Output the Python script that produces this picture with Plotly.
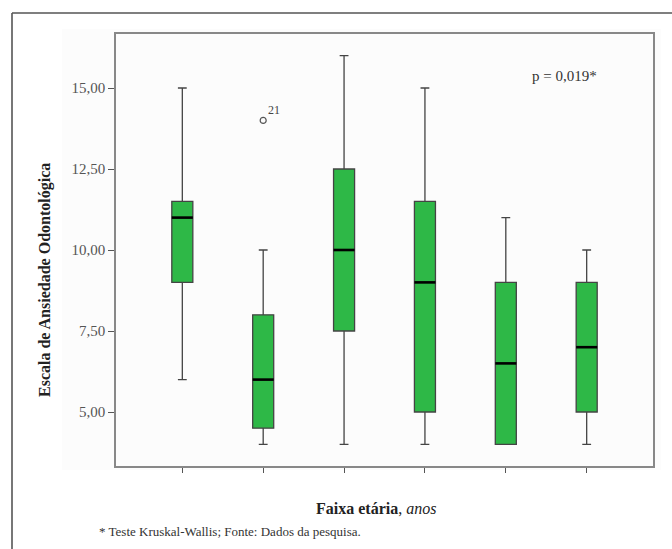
import plotly.graph_objects as go

groups = ["G1", "G2", "G3", "G4", "G5", "G6"]
q1 = [9.0, 4.5, 7.5, 5.0, 4.0, 5.0]
median = [11.0, 6.0, 10.0, 9.0, 6.5, 7.0]
q3 = [11.5, 8.0, 12.5, 11.5, 9.0, 9.0]
lower = [6.0, 4.0, 4.0, 4.0, 4.0, 4.0]
upper = [15.0, 10.0, 16.0, 15.0, 11.0, 10.0]
outlier_group = [1]
outlier_value = [14.0]
outlier_label = ["21"]
y_ticks = [5.0, 7.5, 10.0, 12.5, 15.0]
y_ticktext = ["5,00", "7,50", "10,00", "12,50", "15,00"]

pos = list(range(len(groups)))
BW = 0.26
FONT = "Liberation Serif, Times New Roman, DejaVu Serif, serif"
GREEN = "#2EB847"

# plot area in pixels
W, H = 672, 549
L, R, T, B = 116, 653, 34, 466


def px(x):
    return (x - L) / (R - L)


def py(y):
    return (B - y) / (B - T)


fig = go.Figure()
fig.add_trace(go.Box(
    x=pos, q1=q1, median=median, q3=q3, lowerfence=lower, upperfence=upper,
    width=BW, whiskerwidth=0.42, fillcolor=GREEN,
    line=dict(color="#444444", width=1.3), boxpoints=False, showlegend=False,
    hoverinfo="skip",
))

# thick median lines
mx, my = [], []
for p, m in zip(pos, median):
    mx += [p - BW / 2, p + BW / 2, None]
    my += [m, m, None]
fig.add_trace(go.Scatter(x=mx, y=my, mode="lines",
                         line=dict(color="black", width=2.6), showlegend=False,
                         hoverinfo="skip"))

fig.add_trace(go.Scatter(
    x=outlier_group, y=outlier_value, mode="markers", showlegend=False,
    marker=dict(symbol="circle-open", size=6, color="#555555", line=dict(width=1.2)),
))
for g, v, t in zip(outlier_group, outlier_value, outlier_label):
    fig.add_annotation(x=g, y=v, text=t, showarrow=False, xanchor="left",
                       yanchor="bottom", xshift=3, yshift=1,
                       font=dict(family=FONT, size=12, color="#444444"))

# faint panel background and outer frame
fig.add_shape(type="rect", xref="paper", yref="paper", layer="below",
              x0=px(62), x1=px(661), y0=py(470), y1=py(29),
              fillcolor="#fcfcfc", line=dict(width=0))
fig.add_shape(type="line", xref="paper", yref="paper",
              x0=px(12), x1=px(W + 5), y0=py(13), y1=py(13),
              line=dict(color="#555555", width=1.6))
fig.add_shape(type="line", xref="paper", yref="paper",
              x0=px(12), x1=px(12), y0=py(13), y1=py(H + 5),
              line=dict(color="#555555", width=1.6))

fig.add_annotation(xref="paper", yref="paper", x=px(530), y=py(76),
                   text="p = 0,019*", showarrow=False, xanchor="left",
                   yanchor="middle", font=dict(family=FONT, size=15, color="#333333"))
fig.add_annotation(xref="paper", yref="paper", x=px(45), y=py(280),
                   text="<b>Escala de Ansiedade Odontológica</b>", textangle=-90,
                   showarrow=False, xanchor="center", yanchor="middle",
                   font=dict(family=FONT, size=16, color="#222222"))
fig.add_annotation(xref="paper", yref="paper", x=px(376), y=py(508),
                   text="<b>Faixa etária</b>, <i>anos</i>",
                   showarrow=False, xanchor="center", yanchor="middle",
                   font=dict(family=FONT, size=16, color="#222222"))
fig.add_annotation(xref="paper", yref="paper", x=px(97), y=py(531),
                   text="* Teste Kruskal-Wallis; Fonte: Dados da pesquisa.",
                   showarrow=False, xanchor="left", yanchor="middle",
                   font=dict(family=FONT, size=13, color="#333333"))

fig.update_layout(
    width=W, height=H,
    margin=dict(l=L, r=W - R, t=T, b=H - B, pad=0),
    paper_bgcolor="white", plot_bgcolor="white",
    xaxis=dict(range=[-0.82, len(groups) - 1 + 0.82], tickvals=pos,
               ticktext=["" for _ in groups], ticks="outside", ticklen=5,
               tickcolor="#555555", showgrid=False, zeroline=False,
               showline=True, linecolor="#888888", linewidth=1.5, mirror=True),
    yaxis=dict(range=[3.3333, 16.6667], tickvals=y_ticks, ticktext=y_ticktext,
               ticks="outside", ticklen=6, tickcolor="#555555",
               tickfont=dict(family=FONT, size=15, color="#555555"),
               showgrid=False, zeroline=False, showline=True,
               linecolor="#888888", linewidth=1.5, mirror=True),
)

fig.write_html("out.html")
